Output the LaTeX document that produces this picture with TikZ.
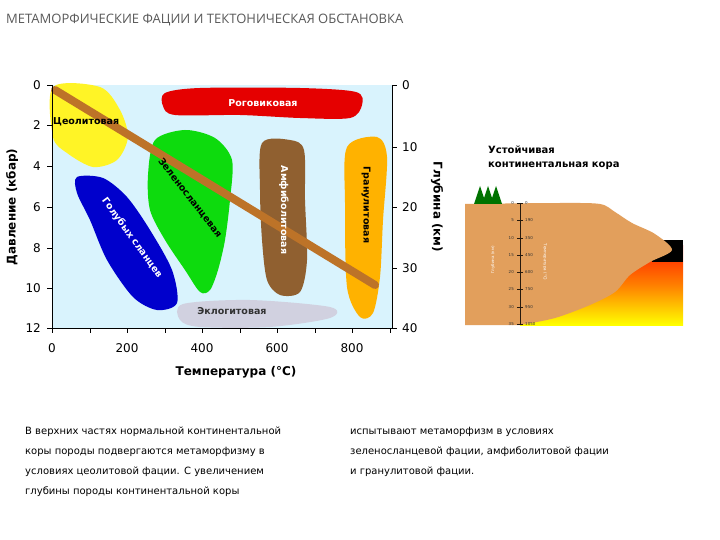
\documentclass[tikz,border=0pt]{standalone}
\usepackage{fontspec}
\setmainfont{DejaVu Sans}
\newfontfamily\titlefont{Open Sans}
\begin{document}
\begin{tikzpicture}[x=1pt,y=-1pt,
  lbl/.style={font=\bfseries\fontsize{9.5}{10}\selectfont,inner sep=0},
  ax/.style={font=\fontsize{12}{13}\selectfont,inner sep=0},
  axt/.style={font=\bfseries\fontsize{12}{13}\selectfont,inner sep=0},
  tiny/.style={font=\fontsize{4}{4}\selectfont,inner sep=0},
  body/.style={font=\fontsize{10}{20}\selectfont,align=left,anchor=north west,inner sep=0}]
\useasboundingbox[fill=white] (0,0) rectangle (720,540);
\node[font=\titlefont\fontsize{13}{14}\selectfont,text=black!65,anchor=west,inner sep=0] (title) at (6,20) {МЕТАМОРФИЧЕСКИЕ ФАЦИИ И ТЕКТОНИЧЕСКАЯ ОБСТАНОВКА};
% plot area
\fill[cyan!15] (52,85) rectangle (392,328);
\fill[yellow!85!white] plot[smooth cycle] coordinates {(53,87)(100,87)(120,110)(128,137)(117,160)(93,167)(67,153)(53,137)};
\fill[red!90!black] plot[smooth cycle] coordinates {(165,93)(200,88)(300,88)(356,92)(362,105)(350,118)(300,118)(240,115)(175,115)(163,106)};
\fill[green!85!black!95] plot[smooth cycle] coordinates {(155,140)(185,130)(215,138)(232,160)(230,200)(225,240)(218,270)(210,290)(200,292)(185,270)(165,240)(150,210)(148,175)};
\fill[blue!80!black] plot[smooth cycle] coordinates {(77,177)(103,178)(127,197)(150,230)(172,270)(177,303)(157,310)(133,297)(107,260)(90,220)(77,193)};
\fill[brown!75!black] plot[smooth cycle] coordinates {(262,143)(290,140)(304,150)(305,200)(307,260)(300,292)(280,295)(267,280)(262,240)(260,190)};
\fill[orange!60!yellow] plot[smooth cycle] coordinates {(347,147)(377,137)(387,157)(383,220)(380,277)(373,313)(360,317)(347,287)(345,203)};
\fill[blue!20!gray!30] plot[smooth cycle] coordinates {(183,304)(250,300)(330,307)(330,318)(270,327)(200,327)(180,320)};
\coordinate (g1) at (55,90); \coordinate (g2) at (375,285);
\draw[line width=8pt,line cap=round,brown!70!orange!90!black] (g1) -- (g2);
\draw[line width=1pt] (52,85) -- (52,328) -- (392,328);
\draw[line width=1pt] (392,85) -- (392,328);
\foreach \y in {85,125,166,207,248,288,328} \draw (47,\y) -- (52,\y);
\foreach \x in {52,90,127,165,202,240,277,315,352,390} \draw (\x,328) -- (\x,333);
\foreach \y in {85,147,207,268,328} \draw (392,\y) -- (397,\y);
% labels
\node[lbl,anchor=west] (zeo) at (53,122) {Цеолитовая};
\node[lbl,text=white] (rog) at (263,103) {Роговиковая};
\node[lbl,rotate=-52] (zel) at (190,198) {Зеленосланцевая};
\node[lbl,text=white,rotate=-54] (gol) at (132,238) {Голубых сланцев};
\node[lbl,text=white,rotate=-90] (amf) at (284,210) {Амфиболитовая};
\node[lbl,rotate=-90] (gra) at (366,205) {Гранулитовая};
\node[lbl,text=black!80] (ekl) at (232,311) {Эклогитовая};
% axes
\foreach \y/\t in {85/0,125/2,166/4,207/6,248/8,288/10,328/12} \node[ax,anchor=east] at (41,\y) {\t};
\foreach \x/\t in {52/0,127/200,202/400,277/600,352/800} \node[ax] at (\x,348) {\t};
\foreach \y/\t in {85/0,147/10,207/20,268/30,328/40} \node[ax,anchor=west] at (402,\y) {\t};
\node[axt,rotate=90] (pl) at (12,207) {Давление (кбар)};
\node[axt,rotate=-90] (gl) at (437,207) {Глубина (км)};
\node[axt] (tl) at (236,372) {Температура (°С)};
% right panel
\node[font=\bfseries\fontsize{10}{14}\selectfont,align=left,anchor=north west,inner sep=0] (ust) at (488,146) {Устойчивая\\континентальная кора};
\shade[top color=red!80!orange,bottom color=yellow,middle color=orange] (520,245) rectangle (683,325);
\fill[black] (652,240) rectangle (683,262);
\fill[brown!60!orange!75!white] plot[smooth] coordinates {(465,204)(560,203)(600,204)(615,212)(632,223)(655,234)(672,250)(650,262)(630,275)(615,292)(590,305)(555,318)(520,325)} -- (465,325) -- cycle;
\foreach \x in {480,488,496} \fill[green!45!black] (\x,186) -- (\x-6,204) -- (\x+6,204) -- cycle;
\draw[black!80!brown,line width=0.8pt] (520,203) -- (520,325);
\foreach \y/\a/\b [count=\i] in {203/0/0,220/5/190,238/10/350,255/15/450,272/20/600,289/25/750,307/30/950,324/35/1050}{
  \draw[black!80!brown] (517,\y) -- (523,\y);
  \node[tiny,anchor=east,text=black!80] at (514,\y) {\a};
  \node[tiny,anchor=west,text=black!80] at (525,\y) {\b};}
\node[tiny,rotate=90,text=white] at (493,260) {Глубина (км)};
\node[tiny,rotate=-90,text=white] at (545,262) {Температура (°С)};
% body text
\node[body] (t1) at (25,427) {В верхних частях нормальной континентальной\\коры породы подвергаются метаморфизму в\\условиях цеолитовой фации. С увеличением\\глубины породы континентальной коры};
\node[body] (t2) at (350,427) {испытывают метаморфизм в условиях\\зеленосланцевой фации, амфиболитовой фации\\и гранулитовой фации.};
\end{tikzpicture}
\end{document}
